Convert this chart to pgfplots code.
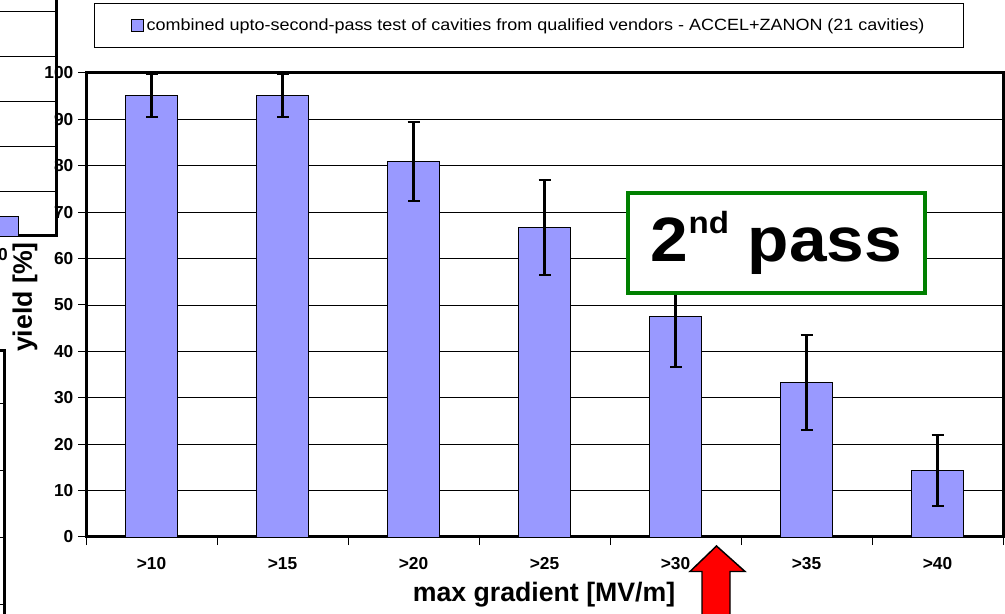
\documentclass[border=0pt]{standalone}
\usepackage{pgfplots}
\usepackage{pgfplotstable}
\pgfplotsset{compat=1.18}
\usepackage{fontspec}
\setmainfont{Liberation Sans}
\definecolor{barfill}{HTML}{9999FF}
\definecolor{boxgreen}{HTML}{008000}
\pgfplotstableread{
x y e
0 95.24 4.65
1 95.24 4.65
2 80.95 8.57
3 66.67 10.29
4 47.62 10.90
5 33.33 10.29
6 14.29 7.64
}\yielddata
\begin{document}
\begin{tikzpicture}
\useasboundingbox (0pt,0pt) rectangle (753.75pt,459.75pt);
\clip (0pt,0pt) rectangle (753.75pt,459.75pt);
% fragment of neighbouring chart, top left
\begin{axis}[
  at={(-150pt,282.75pt)}, anchor=south west,
  width=192pt, height=225pt, scale only axis,
  xmin=0, xmax=256, ymin=0, ymax=66.67,
  ytick={10,20,...,60}, yticklabels={},
  ymajorgrids, grid style={black, line width=0.6pt},
  xtick={193}, xticklabels={{>40}},
  major tick length=0pt,
  xticklabel style={yshift=-6pt},
  tick label style={font=\fontsize{13}{15}\selectfont\bfseries},
  axis line style={line width=2.25pt, black},
  ybar, bar width=50,
]
\addplot[fill=barfill, draw=black, line width=0.6pt] coordinates {(193,4.44)};
\end{axis}
% fragment of neighbouring chart, bottom left
\begin{axis}[
  at={(-225pt,-43.5pt)}, anchor=south west,
  width=228.75pt, height=240pt, scale only axis,
  xmin=0, xmax=1, ymin=0, ymax=4.776,
  ytick={1,2,3,4}, yticklabels={}, xtick=\empty,
  ymajorgrids, grid style={black, line width=0.6pt},
  major tick length=0pt,
  axis line style={line width=2.25pt, black},
]
\addplot[draw=none] coordinates {(0,0)};
\end{axis}
% main chart
\begin{axis}[
  at={(64.5pt,57pt)}, anchor=south west,
  width=687.75pt, height=348pt, scale only axis,
  xmin=-0.5, xmax=6.5, ymin=0, ymax=100,
  ybar, bar width=39pt,
  ytick={0,10,...,100},
  xtick={-0.5,0.5,...,6.5}, xticklabels={},
  extra x ticks={0,1,2,3,4,5,6},
  extra x tick labels={{>10},{>15},{>20},{>25},{>30},{>35},{>40}},
  extra x tick style={major tick length=0pt, xticklabel style={yshift=-12pt}},
  xtick pos=bottom, ytick pos=left,
  tick align=outside, major tick length=6pt,
  tick style={black, line width=0.75pt},
  ymajorgrids, grid style={black, line width=0.6pt},
  axis line style={line width=2.25pt, black},
  tick label style={font=\fontsize{13}{15}\selectfont\bfseries},
  /pgf/number format/assume math mode=true,
  xlabel={max gradient [MV/m]}, ylabel={yield [\%]},
  label style={font=\fontsize{20}{24}\selectfont\bfseries},
  xlabel style={at={(axis description cs:0.4995,-0.125)}, anchor=center},
  ylabel style={at={(axis description cs:-0.0665,0.517)}, anchor=center},
  legend style={at={(axis description cs:0.4833,1.1024)}, anchor=center,
    draw=black, line width=0.75pt, fill=white,
    font=\fontsize{12.2}{14}\selectfont, inner xsep=27.5pt, inner ysep=9pt},
  legend image code/.code={\draw[#1] (0pt,-4.5pt) rectangle (9pt,4.5pt);},
]
\addplot[fill=barfill, draw=black, line width=0.6pt,
  error bars/.cd, y dir=both, y explicit, error mark=-,
  error bar style={line width=1.6pt, draw=black, solid},
  error mark options={line width=1.6pt, mark size=4.5pt, draw=black, rotate=90}]
  table[x=x, y=y, y error=e] {\yielddata};
\addlegendentry{\scalebox{1.105}[1]{combined upto-second-pass test of cavities from qualified vendors - ACCEL+ZANON (21 cavities)}}
\end{axis}
% annotation box
\node[draw=boxgreen, line width=3pt, fill=white, minimum width=222.75pt, minimum height=75pt, inner sep=0pt]
  at (582.375pt,277.5pt) {\scalebox{1.08}[1]{\fontsize{47}{50}\selectfont\bfseries 2\raisebox{21pt}{\fontsize{23}{23}\selectfont nd} pass}};
% red arrow
\draw[fill=red, draw=black, line width=1.1pt]
  (537.375pt,50.25pt) -- (558.75pt,31.125pt) -- (547.5pt,31.125pt) -- (547.5pt,-5pt) -- (526.5pt,-5pt) -- (526.5pt,31.125pt) -- (517.5pt,31.125pt) -- cycle;
\end{tikzpicture}
\end{document}
